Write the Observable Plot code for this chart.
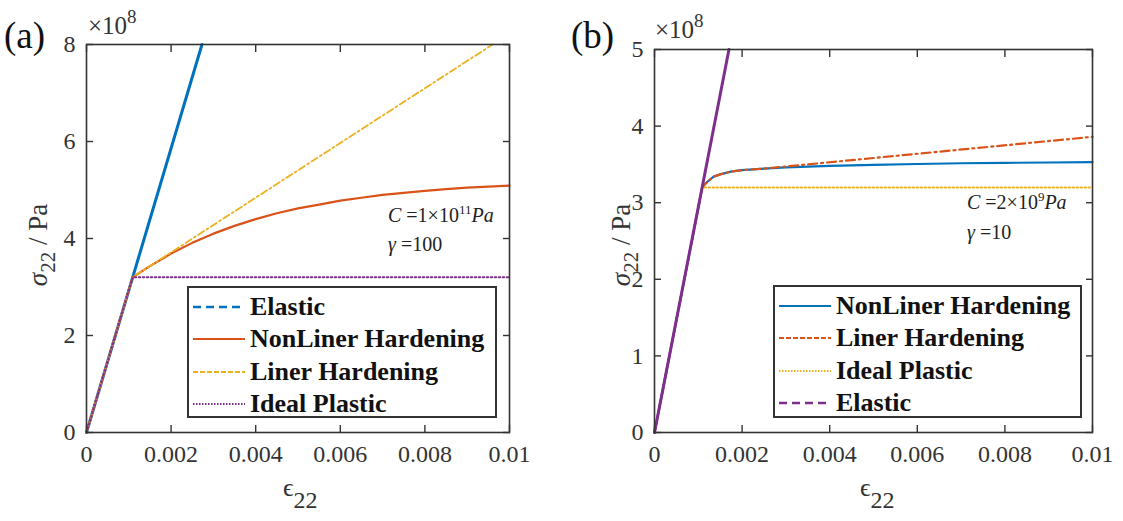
<!DOCTYPE html>
<html>
<head>
<meta charset="utf-8">
<script src="https://cdn.jsdelivr.net/npm/d3@7"></script>
<script src="https://cdn.jsdelivr.net/npm/@observablehq/plot@0.6"></script>
<style>
  html, body { margin: 0; padding: 0; background: #fff; }
  #fig { position: relative; width: 1123px; height: 521px; background: #fff; overflow: hidden; font-family: "Liberation Serif", "Times New Roman", serif; color: #333; }
  .abs { position: absolute; white-space: nowrap; }
  .legend { position: absolute; border: 2px solid #333; background: #fff; box-sizing: border-box; }
  .legend .row { position: absolute; left: 0; height: 33px; display: flex; align-items: center; font-weight: bold; font-size: 26px; color: #111; }
  .legend svg { display: block; }
  .ann { font-size: 20px; color: #222; }
  .ylab { font-size: 27px; transform: translate(-50%, -50%) rotate(-90deg); }
  .sub { font-size: 21px; position: relative; top: 8px; }
  svg text { font-family: "Liberation Serif", "Times New Roman", serif; }
</style>
</head>
<body>
<div id="fig"></div>
<script>
// ---------------- data (stress in units of 1e8 Pa) ----------------
const xTicks = [0, 0.002, 0.004, 0.006, 0.008, 0.01];
const yTicksA = [0, 2, 4, 6, 8];
const yTicksB = [0, 1, 2, 3, 4, 5];

// Panel (a)  C = 1e11 Pa, gamma = 100
const aElasticStrain = [0, 0.00273];
const aElasticStress = [0, 8];
const aNonlinStrain = [0, 0.00109, 0.0015, 0.002, 0.0025, 0.003, 0.0035, 0.004, 0.0045, 0.005, 0.0055, 0.006, 0.0065, 0.007, 0.0075, 0.008, 0.0085, 0.009, 0.0095, 0.01];
const aNonlinStress = [0, 3.2, 3.43, 3.69, 3.91, 4.10, 4.26, 4.40, 4.52, 4.62, 4.70, 4.78, 4.84, 4.90, 4.94, 4.98, 5.02, 5.05, 5.07, 5.09];
const aLinStrain = [0, 0.00109, 0.0096];
const aLinStress = [0, 3.2, 8];
const aIdealStrain = [0, 0.00109, 0.01];
const aIdealStress = [0, 3.2, 3.2];

// Panel (b)  C = 2e9 Pa, gamma = 10
const bNonlinStrain = [0, 0.00109, 0.0012, 0.00135, 0.0015, 0.00174, 0.002, 0.0025, 0.003, 0.004, 0.005, 0.006, 0.007, 0.008, 0.009, 0.01];
const bNonlinStress = [0, 3.2, 3.27, 3.34, 3.37, 3.405, 3.425, 3.445, 3.46, 3.48, 3.495, 3.505, 3.515, 3.52, 3.525, 3.53];
const bLinStrain = [0, 0.00109, 0.0012, 0.00135, 0.0015, 0.00174, 0.002, 0.0025, 0.01];
const bLinStress = [0, 3.2, 3.27, 3.34, 3.37, 3.405, 3.425, 3.445, 3.86];
const bIdealStrain = [0, 0.00109, 0.01];
const bIdealStress = [0, 3.2, 3.2];
const bElasticStrain = [0, 0.0017];
const bElasticStress = [0, 5];

const seriesNamesA = ["Elastic", "NonLiner Hardening", "Liner Hardening", "Ideal Plastic"];
const seriesNamesB = ["NonLiner Hardening", "Liner Hardening", "Ideal Plastic", "Elastic"];

// ---------------- styles ----------------
const BLUE = "#0072BD", ORANGE = "#D95319", YELLOW = "#EDB120", PURPLE = "#7E2F8E";
const AX = "#333";

const zip = (xs, ys) => xs.map((e, i) => ({e, s: ys[i]}));
const fmt = d => String(d);

function axes(yTicks) {
  return [
    Plot.frame({stroke: AX, strokeWidth: 1.6}),
    Plot.axisX(xTicks, {anchor: "bottom", tickSize: -7, tickFormat: () => "", label: null, stroke: AX, strokeWidth: 1.4}),
    Plot.axisX(xTicks, {anchor: "top", tickSize: -7, tickFormat: () => "", label: null, stroke: AX, strokeWidth: 1.4}),
    Plot.axisY(yTicks, {anchor: "left", tickSize: -7, tickFormat: () => "", label: null, stroke: AX, strokeWidth: 1.4}),
    Plot.axisY(yTicks, {anchor: "right", tickSize: -7, tickFormat: () => "", label: null, stroke: AX, strokeWidth: 1.4}),
    Plot.axisX(xTicks, {anchor: "bottom", tickSize: 0, tickPadding: 12, tickFormat: fmt, label: null, fill: AX}),
    Plot.axisY(yTicks, {anchor: "left", tickSize: 0, tickPadding: 11, tickFormat: fmt, label: null, fill: AX})
  ];
}

const baseStyle = {fontFamily: "'Liberation Serif', 'Times New Roman', serif", fontSize: "24px", color: AX, background: "transparent", overflow: "visible"};

const plotA = Plot.plot({
  width: 560, height: 521,
  marginLeft: 86, marginRight: 51, marginTop: 44, marginBottom: 89,
  x: {domain: [0, 0.01]},
  y: {domain: [0, 8]},
  style: baseStyle,
  marks: [
    Plot.line(zip(aElasticStrain, aElasticStress), {x: "e", y: "s", stroke: BLUE, strokeWidth: 3}),
    Plot.line(zip(aNonlinStrain, aNonlinStress), {x: "e", y: "s", stroke: ORANGE, strokeWidth: 2.2}),
    Plot.line(zip(aLinStrain, aLinStress), {x: "e", y: "s", stroke: YELLOW, strokeWidth: 1.8, strokeDasharray: "7,3,2,3"}),
    Plot.line(zip(aIdealStrain, aIdealStress), {x: "e", y: "s", stroke: PURPLE, strokeWidth: 2, strokeDasharray: "1.5,2.5"}),
    ...axes(yTicksA)
  ]
});

const plotB = Plot.plot({
  width: 563, height: 521,
  marginLeft: 94, marginRight: 31, marginTop: 49, marginBottom: 89,
  x: {domain: [0, 0.01]},
  y: {domain: [0, 5]},
  style: baseStyle,
  marks: [
    Plot.line(zip(bNonlinStrain, bNonlinStress), {x: "e", y: "s", stroke: BLUE, strokeWidth: 2.2}),
    Plot.line(zip(bLinStrain, bLinStress), {x: "e", y: "s", stroke: ORANGE, strokeWidth: 2.2, strokeDasharray: "9,4,2,4"}),
    Plot.line(zip(bIdealStrain, bIdealStress), {x: "e", y: "s", stroke: YELLOW, strokeWidth: 2, strokeDasharray: "1.5,2.5"}),
    Plot.line(zip(bElasticStrain, bElasticStress), {x: "e", y: "s", stroke: PURPLE, strokeWidth: 3}),
    ...axes(yTicksB)
  ]
});

const fig = document.getElementById("fig");
plotA.style.position = "absolute"; plotA.style.left = "0px"; plotA.style.top = "0px";
plotB.style.position = "absolute"; plotB.style.left = "560px"; plotB.style.top = "0px";
fig.appendChild(plotA);
fig.appendChild(plotB);

// ---------------- text overlays ----------------
function addHTML(html, cls, left, top, extra) {
  const d = document.createElement("div");
  d.className = "abs " + (cls || "");
  d.innerHTML = html;
  d.style.left = left + "px";
  d.style.top = top + "px";
  if (extra) Object.assign(d.style, extra);
  fig.appendChild(d);
  return d;
}

// panel letters
addHTML("(a)", "", 4, 14, {fontSize: "37px", color: "#111"});
addHTML("(b)", "", 571, 14, {fontSize: "37px", color: "#111"});
// exponent labels
const expo = '×10<span style="font-size:19px;position:relative;top:-11px">8</span>';
addHTML(expo, "", 88, 12, {fontSize: "25px", color: AX, lineHeight: "28px"});
addHTML(expo, "", 655, 16, {fontSize: "25px", color: AX, lineHeight: "28px"});

// y labels
const ylab = '<i>σ</i><span class="sub">22</span> / Pa';
addHTML(ylab, "ylab", 38, 245);
addHTML(ylab, "ylab", 621, 245);
// x labels
const xlab = '<span style="position:relative;top:-6px">ϵ</span><span style="font-size:24px;position:relative;top:6px">22</span>';
addHTML(xlab, "", 283, 479, {fontSize: "26px", color: AX});
addHTML(xlab, "", 860, 479, {fontSize: "26px", color: AX});

// annotations
addHTML('<i>C</i> =1×10<span style="font-size:13px;position:relative;top:-8px">11</span><i>Pa</i>', "ann", 388, 204);
addHTML('<i>γ</i> =100', "ann", 388, 233);
addHTML('<i>C</i> =2×10<span style="font-size:13px;position:relative;top:-8px">9</span><i>Pa</i>', "ann", 967, 191);
addHTML('<i>γ</i> =10', "ann", 967, 221);

// legends
function legend(left, top, width, height, items) {
  const box = document.createElement("div");
  box.className = "legend";
  Object.assign(box.style, {left: left + "px", top: top + "px", width: width + "px", height: height + "px"});
  items.forEach((it, i) => {
    const row = document.createElement("div");
    row.className = "row";
    row.style.top = (2 + i * 32.5) + "px";
    const svg = `<svg width="60" height="20"><line x1="4" x2="56" y1="10" y2="10" stroke="${it.color}" stroke-width="${it.w}" stroke-dasharray="${it.dash}"/></svg>`;
    row.innerHTML = svg + `<span style="margin-left:1px">${it.name}</span>`;
    box.appendChild(row);
  });
  fig.appendChild(box);
}
const styleA = {
  "Elastic": {color: BLUE, w: 2.5, dash: "8,5"},
  "NonLiner Hardening": {color: ORANGE, w: 2.2, dash: "none"},
  "Liner Hardening": {color: YELLOW, w: 1.8, dash: "5,2"},
  "Ideal Plastic": {color: PURPLE, w: 1.8, dash: "1.5,1.5"}
};
const styleB = {
  "NonLiner Hardening": {color: BLUE, w: 2.2, dash: "none"},
  "Liner Hardening": {color: ORANGE, w: 2, dash: "5,2"},
  "Ideal Plastic": {color: YELLOW, w: 1.8, dash: "1.5,1.5"},
  "Elastic": {color: PURPLE, w: 2.5, dash: "8,5"}
};
legend(187, 286, 310, 132, seriesNamesA.map(n => ({name: n, ...styleA[n]})));
legend(773, 285, 309, 133, seriesNamesB.map(n => ({name: n, ...styleB[n]})));
</script>
</body>
</html>
